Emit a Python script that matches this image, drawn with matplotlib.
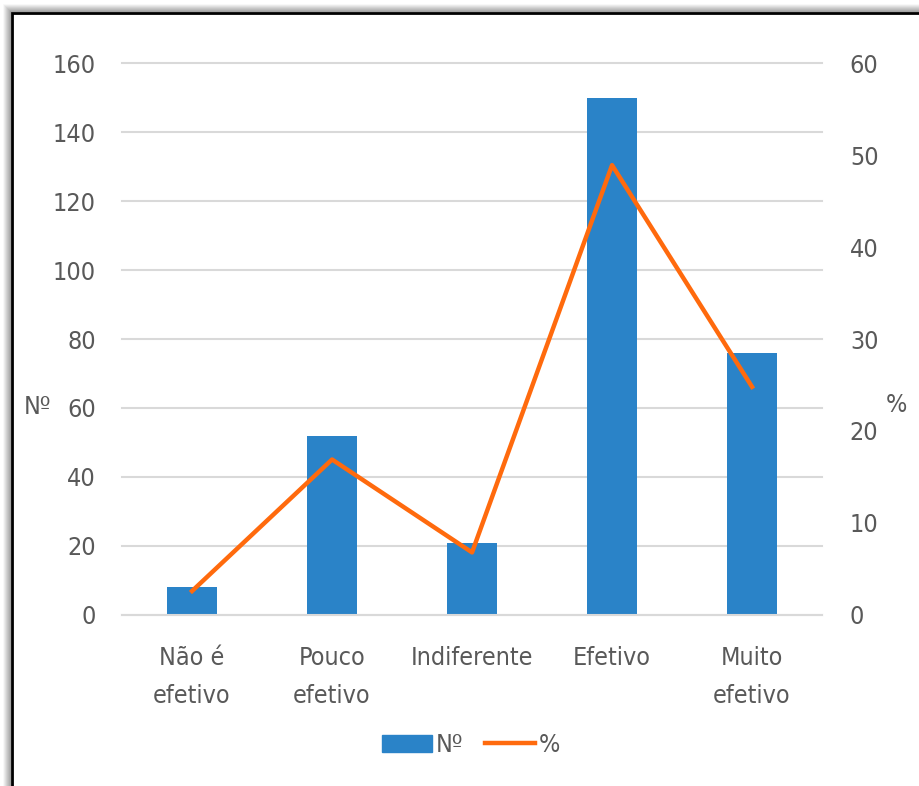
import numpy as np
import matplotlib.pyplot as plt
from matplotlib.patches import Rectangle
from matplotlib.lines import Line2D
from matplotlib import font_manager

categorias = ['Não é\nefetivo', 'Pouco\nefetivo', 'Indiferente', 'Efetivo', 'Muito\nefetivo']
contagem = [8, 52, 21, 150, 76]
percentagem = [2.6, 16.9, 6.8, 48.9, 24.8]

names = {f.name for f in font_manager.fontManager.ttflist}
fam = [n for n in ['Liberation Sans Narrow', 'DejaVu Sans'] if n in names]
plt.rcParams['font.family'] = fam
stretch = 'normal' if fam[0] == 'Liberation Sans Narrow' else 'condensed'

cinza = '#595959'
azul = '#2A83C8'
laranja = '#FF6A0D'

fig = plt.figure(figsize=(9.19, 7.86), dpi=100)

# moldura com sombra
for i, a in enumerate(np.linspace(0.25, 0.03, 8)):
    fig.patches.append(Rectangle((12 - i - 1, -50), 1000, 786 - 13 + 50 + i + 1,
                                 transform=None, fill=False, lw=1.2,
                                 edgecolor=(0, 0, 0, a)))
fig.patches.append(Rectangle((12, -50), 1000, 786 - 13 + 50, transform=None,
                             fill=False, lw=2, edgecolor='black'))

ax = fig.add_axes([0.1328, 0.2176, 0.7617, 0.7022])
x = np.arange(len(categorias))
ax.bar(x, contagem, width=0.36, color=azul, zorder=2)
ax.set_ylim(0, 160)
ax.set_xlim(-0.5, 4.5)
ax.set_yticks(range(0, 161, 20))
ax.grid(axis='y', color='#D9D9D9', lw=1.5, zorder=0)
ax.set_axisbelow(True)
for gl in ax.get_ygridlines():
    gl.set_clip_on(False)
for s in ['top', 'right', 'left']:
    ax.spines[s].set_visible(False)
ax.spines['bottom'].set_color('#D9D9D9')
ax.spines['bottom'].set_linewidth(1.5)
ax.tick_params(length=0, labelsize=18, labelcolor=cinza)
ax.tick_params(axis='y', pad=19)
ax.tick_params(axis='x', pad=22)
ax.set_xticks(x)
ax.set_xticklabels(categorias, linespacing=1.75)

ax2 = ax.twinx()
ax2.plot(x, percentagem, color=laranja, lw=3.2, zorder=3)
ax2.set_ylim(0, 60)
ax2.set_yticks(range(0, 61, 10))
for s in ax2.spines.values():
    s.set_visible(False)
ax2.tick_params(length=0, labelsize=18, labelcolor=cinza, pad=20)

for a in (ax, ax2):
    for t in a.get_xticklabels() + a.get_yticklabels():
        t.set_fontstretch(stretch)

fig.text(38 / 919, 1 - 407 / 786, 'Nº', fontsize=18, color=cinza,
         ha='center', va='center', fontstretch=stretch)
fig.text(896 / 919, 1 - 405 / 786, '%', fontsize=18, color=cinza,
         ha='center', va='center', fontstretch=stretch)

handles = [Rectangle((0, 0), 1, 1, color=azul),
           Line2D([0], [0], color=laranja, lw=3.2)]
leg = fig.legend(handles, ['Nº', '%'], loc='center', ncol=2,
                 bbox_to_anchor=(471 / 919, 1 - 745 / 786), frameon=False,
                 fontsize=18, handlelength=2.0, handleheight=0.7,
                 handletextpad=0.15, columnspacing=0.9)
for t in leg.get_texts():
    t.set_color(cinza)
    t.set_fontstretch(stretch)

fig.savefig('out.png', dpi=100)
